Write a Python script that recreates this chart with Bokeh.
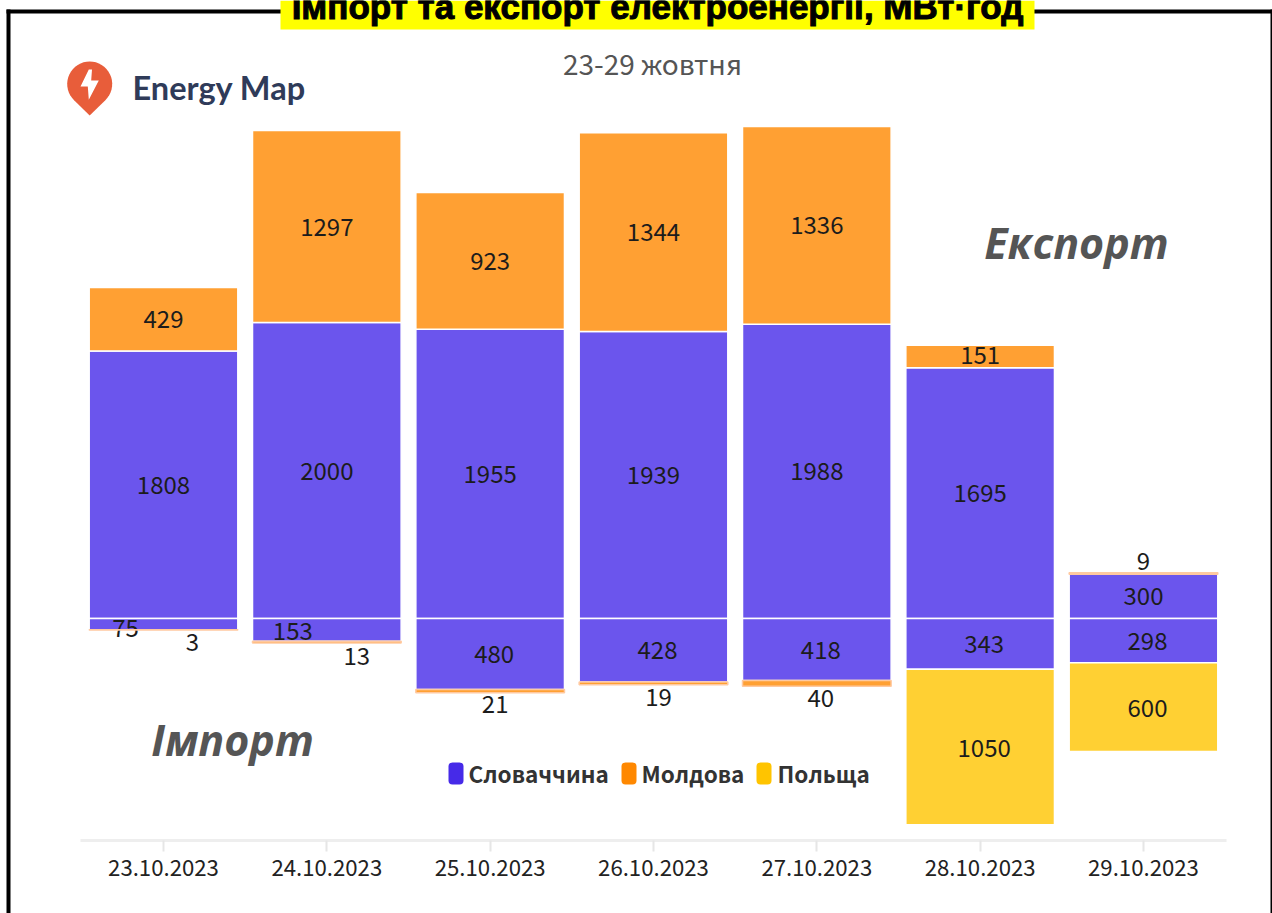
import math
from bokeh.plotting import figure
from bokeh.models import ColumnDataSource, Range1d, FixedTicker, Label, BoxAnnotation, PolyAnnotation
from bokeh.core.properties import value
from bokeh.embed import file_html
from bokeh.resources import INLINE

dates = ["23.10.2023", "24.10.2023", "25.10.2023", "26.10.2023", "27.10.2023", "28.10.2023", "29.10.2023"]
export_slovakia = [1808, 2000, 1955, 1939, 1988, 1695, 300]
export_moldova = [429, 1297, 923, 1344, 1336, 151, 9]
import_slovakia = [75, 153, 480, 428, 418, 343, 298]
import_moldova = [3, 13, 21, 19, 40, 0, 0]
import_poland = [0, 0, 0, 0, 0, 1050, 600]
legend_names = ["Словаччина", "Молдова", "Польща"]
legend_colors = ["#462AE8", "#FF8800", "#FFC400"]

FONT = "Noto Sans CJK SC"
W, H = 1272, 913
STEP = 163.33
X0 = 163.0
xs = list(range(len(dates)))
p = figure(x_range=Range1d(-X0 / STEP, (W - X0) / STEP), y_range=Range1d(-1993, 4176),
           width=W, height=H, output_backend="svg", toolbar_location=None,
           min_border_left=0, min_border_right=0, min_border_top=0, min_border_bottom=0,
           outline_line_color=None, margin=0)
p.xgrid.visible = False
p.ygrid.visible = False
p.yaxis.visible = False
ax = p.xaxis[0]
ax.fixed_location = -1500
ax.bounds = ((80 - X0) / STEP, (1226 - X0) / STEP)
ax.ticker = FixedTicker(ticks=xs)
ax.major_label_overrides = dict(zip(xs, dates))
ax.axis_line_color = "#EEEEEE"
ax.axis_line_width = 3
ax.major_tick_line_color = "#E6E6E6"
ax.major_tick_line_width = 2
ax.major_tick_in = 0
ax.major_tick_out = 11
ax.minor_tick_line_color = None
ax.major_label_text_font = FONT
ax.major_label_text_font_size = "22.2px"
ax.major_label_text_color = "#222222"
ax.major_label_standoff = 7

def stack(layers, sign, colors, offs):
    base = [0] * len(dates)
    for vals, col, (dx, dy) in zip(layers, colors, offs):
        tops = [b + sign * v for b, v in zip(base, vals)]
        keep = [i for i, v in enumerate(vals) if v > 0]
        src = ColumnDataSource(dict(
            x=[xs[i] for i in keep], bottom=[base[i] for i in keep], top=[tops[i] for i in keep],
            edge=["#FFC9A0" if vals[i] <= 40 else "white" for i in keep]))
        p.vbar(x="x", bottom="bottom", top="top", width=0.91, source=src,
               fill_color=col, fill_alpha=0.8, line_color="edge", line_width=1.5)
        lab = ColumnDataSource(dict(
            x=[xs[i] for i in keep], y=[(base[i] + tops[i]) / 2 for i in keep],
            t=[str(vals[i]) for i in keep], dx=[dx[i] for i in keep], dy=[dy[i] for i in keep]))
        p.text(x="x", y="y", text="t", x_offset="dx", y_offset="dy", source=lab,
               text_font=value(FONT), text_font_size="24px", text_color="#1C1C1C",
               text_align="center", text_baseline="middle")
        base = tops

stack([export_slovakia, export_moldova], 1, legend_colors[:2], [
    ([0] * 7, [0] * 7),
    ([0] * 7, [0, 0, 0, 0, 0, -2, -12]),
])
stack([import_slovakia, import_moldova, import_poland], -1, legend_colors, [
    ([-38, -34, 4, 4, 4, 4, 4], [4, 1, 0, 0, 1, 0, 0]),
    ([29, 30, 5, 5, 4, 0, 0], [12, 14, 13, 14, 15, 0, 0]),
    ([0, 0, 0, 0, 0, 4, 4], [0, 0, 0, 0, 0, 1, 1]),
])

def box(l, r, t, b, color, radius=0):
    p.add_layout(BoxAnnotation(left=l, right=r, top=H - t, bottom=H - b, left_units="screen", right_units="screen",
                               top_units="screen", bottom_units="screen", fill_color=color, fill_alpha=1,
                               line_color=None, border_radius=radius))

def label(x, y, text, size, color="#222222", style="normal", font=FONT, align="left", outline=None):
    p.add_layout(Label(x=x, y=H - y, x_units="screen", y_units="screen", text=text, text_font=font,
                       text_font_size=size, text_color=color, text_font_style=style,
                       text_align=align, text_baseline="middle", text_outline_color=outline))

# frame and title
box(6, 1272, 9, 13, "#000000")
box(6, 10, 9, 913, "#000000")
box(1270, 1272, 9, 913, "#000000")
box(280, 1034, 0, 29, "#FFFF00")
label(657, 6, "Імпорт та експорт електроенергії, МВт·год", "35px", "#000000", "bold", "Liberation Sans", "center", "#000000")
label(652, 62, "23-29 жовтня", "28px", "#555555", align="center")

# logo
cx, cy, r = 89.2, 83.5, 22.5
angles = [math.radians(a) for a in range(-46, 227, 8)]
pin_x = [cx + r * math.cos(a) for a in angles] + [cx]
pin_y = [cy - r * math.sin(a) for a in angles] + [115]
p.add_layout(PolyAnnotation(xs=pin_x, ys=[H - v for v in pin_y], xs_units="screen", ys_units="screen",
                            fill_color="#E85D3A", fill_alpha=1, line_color=None))
bolt_x = [88.3, 80, 87.3, 88.3, 98.3, 90.7, 91.5]
bolt_y = [69, 86, 86, 99.3, 80, 80, 69]
p.add_layout(PolyAnnotation(xs=bolt_x, ys=[H - v for v in bolt_y], xs_units="screen", ys_units="screen",
                            fill_color="#FFFFFF", fill_alpha=1, line_color=None))
label(132, 87, "Energy Map", "32.5px", "#2F3B59", "bold", "Lato")

# side captions
label(1076, 242, "Експорт", "43px", "#555555", "bold italic", "Open Sans", "center")
label(232, 739, "Імпорт", "43px", "#555555", "bold italic", "Open Sans", "center")

# legend
for lx, tx, name, col in zip([448, 621, 756], [468, 641, 777], legend_names, legend_colors):
    box(lx, lx + 15, 762, 784, col, 4)
    label(tx, 772, name, "22.5px", "#333333", "bold")

open("out.html", "w").write(file_html(p, INLINE))
